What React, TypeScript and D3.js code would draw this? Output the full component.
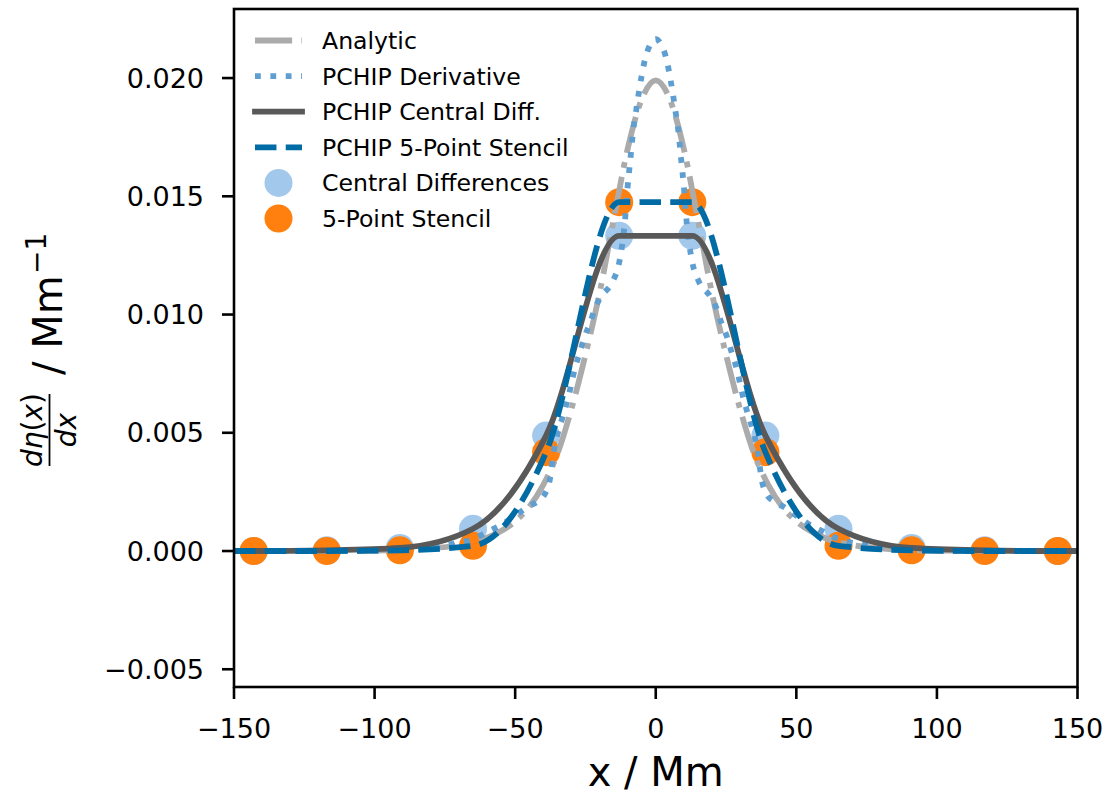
import React from "react";
import * as d3 from "d3";

// ---- data ----
const nodeX = [-143, -117, -91, -65, -39, -13, 13, 39, 65, 91, 117, 143];
const centralDiff = [0, 0.00003, 0.00013, 0.00094, 0.00488, 0.01333, 0.01333, 0.00488, 0.00094, 0.00013, 0.00003, 0];
const fivePoint = [0, 0, 0.00003, 0.00022, 0.00418, 0.01475, 0.01475, 0.00418, 0.00022, 0.00003, 0, 0];

// PCHIP curves through the difference values (evaluated over the full axis)
const pchipX = [-150, -143, -117, -91, -65, -39, -13, 13, 39, 65, 91, 117, 143, 150];
const pchipCentral = [0, 0, 0.00003, 0.00013, 0.00094, 0.00488, 0.01333, 0.01333, 0.00488, 0.00094, 0.00013, 0.00003, 0, 0];
const pchipFive = [0, 0, 0, 0.00003, 0.00022, 0.00418, 0.01475, 0.01475, 0.00418, 0.00022, 0.00003, 0, 0, 0];

const analyticX = [-150, -120, -100, -90, -80, -70, -60, -50, -45, -40, -35, -30, -25, -20, -15, -10, -5, 0,
  5, 10, 15, 20, 25, 30, 35, 40, 45, 50, 60, 70, 80, 90, 100, 120, 150];
const analyticY = [0, 0.000005, 0.00002, 0.00004, 0.00011, 0.00025, 0.00056, 0.00126, 0.00187, 0.0028, 0.0041, 0.006, 0.0083, 0.0109, 0.014, 0.017, 0.0191, 0.0199,
  0.0191, 0.017, 0.014, 0.0109, 0.0083, 0.006, 0.0041, 0.0028, 0.00187, 0.00126, 0.00056, 0.00025, 0.00011, 0.00004, 0.00002, 0.000005, 0];

const pchipDerivX = [-150, -120, -100, -90, -80, -70, -65, -60, -55, -50, -45, -42, -39.5, -37.7, -36.3, -34.8, -33, -31.3, -28.8, -27, -25.2, -23.5, -21.5, -19.2, -15.3, -13, -12, -11, -10, -9, -8, -7, -6, -5, -4, -2, 0,
  2, 4, 5, 6, 7, 8, 9, 10, 11, 12, 13, 15.3, 19.2, 21.5, 23.5, 25.2, 27, 28.8, 31.3, 33, 34.8, 36.3, 37.7, 39.5, 42, 45, 50, 55, 60, 65, 70, 80, 90, 100, 120, 150];
const pchipDerivY = [0, 0.00001, 0.00003, 0.00006, 0.00015, 0.00035, 0.0005, 0.0008, 0.0011, 0.0015, 0.0019, 0.0021, 0.0024, 0.003, 0.0042, 0.005, 0.0057, 0.0064, 0.0077, 0.0084, 0.0091, 0.0096, 0.0103, 0.0108, 0.0114, 0.0122, 0.0129, 0.0139, 0.0154, 0.0166, 0.0178, 0.0186, 0.0194, 0.0201, 0.0207, 0.0214, 0.02165,
  0.0214, 0.0207, 0.0201, 0.0194, 0.0186, 0.0178, 0.0166, 0.0154, 0.0139, 0.0129, 0.0122, 0.0114, 0.0108, 0.0103, 0.0096, 0.0091, 0.0084, 0.0077, 0.0064, 0.0057, 0.005, 0.0042, 0.003, 0.0024, 0.0021, 0.0019, 0.0015, 0.0011, 0.0008, 0.0005, 0.00035, 0.00015, 0.00006, 0.00003, 0.00001, 0];

const xTicks = [-150, -100, -50, 0, 50, 100, 150];
const yTicks = [-0.005, 0, 0.005, 0.01, 0.015, 0.02];

const legendLabels = ["Analytic", "PCHIP Derivative", "PCHIP Central Diff.", "PCHIP 5-Point Stencil", "Central Differences", "5-Point Stencil"];

// ---- styles ----
const C_ANALYTIC = "#ABABAB";
const C_DERIV = "#5F9ED1";
const C_CDIFF = "#595959";
const C_FIVE = "#006BA4";
const C_CPTS = "#A2C8EC";
const C_FPTS = "#FF800E";
const LW = 5.8;
const DASH_DOT = `${6.4 * LW},${1.6 * LW},${1 * LW},${1.6 * LW}`;
const DOTTED = `${1 * LW},${1.65 * LW}`;
const DASHED = `${3.7 * LW},${1.6 * LW}`;
const FONT = "'DejaVu Sans', sans-serif";

export default function App() {
  const W = 1112, H = 796;
  const x = d3.scaleLinear().domain([-150, 150]).range([234, 1077.5]);
  const y = d3.scaleLinear().domain([-0.00575, 0.02292]).range([687, 9]);
  const left = x(-150), right = x(150), top = y(0.02292), bottom = y(-0.00575);

  const line = (xs: number[], ys: number[]) =>
    d3.line<number>().x((_, i) => x(xs[i])).y((d) => y(d)).curve(d3.curveMonotoneX)(ys) || "";

  const fmtY = d3.format(".3f");
  const fmtX = d3.format("d");

  const legX0 = 255, legX1 = 302, legTextX = 322, legY0 = 40.5, legStep = 35.6;

  return (
    <svg width={W} height={H} style={{ position: "absolute", left: 0, top: 0, background: "#fff" }} fontFamily={FONT}>
      <rect x={0} y={0} width={W} height={H} fill="#fff" />
      <defs>
        <clipPath id="plotclip">
          <rect x={left} y={top} width={right - left} height={bottom - top} />
        </clipPath>
      </defs>
      <g clipPath="url(#plotclip)">
        {nodeX.map((v, i) => (
          <circle key={"c" + i} cx={x(v)} cy={y(centralDiff[i])} r={14} fill={C_CPTS} />
        ))}
        {nodeX.map((v, i) => (
          <circle key={"f" + i} cx={x(v)} cy={y(fivePoint[i])} r={14} fill={C_FPTS} />
        ))}
        <path d={line(analyticX, analyticY)} fill="none" stroke={C_ANALYTIC} strokeWidth={LW} strokeDasharray={DASH_DOT} />
        <path d={line(pchipDerivX, pchipDerivY)} fill="none" stroke={C_DERIV} strokeWidth={LW} strokeDasharray={DOTTED} />
        <path d={line(pchipX, pchipCentral)} fill="none" stroke={C_CDIFF} strokeWidth={LW} strokeLinecap="square" />
        <path d={line(pchipX, pchipFive)} fill="none" stroke={C_FIVE} strokeWidth={LW} strokeDasharray={DASHED} />
      </g>

      {/* spines */}
      <rect x={left} y={top} width={right - left} height={bottom - top} fill="none" stroke="#000" strokeWidth={2.6} />

      {/* x axis ticks */}
      {xTicks.map((t) => (
        <g key={"xt" + t}>
          <line x1={x(t)} x2={x(t)} y1={bottom} y2={bottom + 12} stroke="#000" strokeWidth={2.6} />
          <text x={x(t)} y={738} fontSize={27} textAnchor="middle" fill="#000">{fmtX(t)}</text>
        </g>
      ))}
      {/* y axis ticks */}
      {yTicks.map((t) => (
        <g key={"yt" + t}>
          <line x1={left} x2={left - 12} y1={y(t)} y2={y(t)} stroke="#000" strokeWidth={2.6} />
          <text x={204} y={y(t)} dy="0.36em" fontSize={27} textAnchor="end" fill="#000">{fmtY(t)}</text>
        </g>
      ))}

      {/* x label */}
      <text x={(left + right) / 2} y={786} fontSize={40} textAnchor="middle" fill="#000">x / Mm</text>

      {/* y label */}
      <g transform={`translate(62, ${(top + bottom) / 2}) rotate(-90)`} fill="#000">
        <text x={-82} y={-20} fontSize={28} textAnchor="middle">
          <tspan fontStyle="italic">d</tspan><tspan fontStyle="italic">η</tspan>(<tspan fontStyle="italic">x</tspan>)
        </text>
        <line x1={-118} x2={-46} y1={-12.5} y2={-12.5} stroke="#000" strokeWidth={1.8} />
        <text x={-82} y={14} fontSize={28} textAnchor="middle" fontStyle="italic">dx</text>
        <text x={-27} y={0} fontSize={40}>/ Mm</text>
        <text x={74} y={-16} fontSize={28}>−1</text>
      </g>

      {/* legend */}
      <g>
        <line x1={legX0} x2={legX1} y1={legY0} y2={legY0} stroke={C_ANALYTIC} strokeWidth={LW} strokeDasharray={DASH_DOT} />
        <line x1={legX0} x2={legX1} y1={legY0 + legStep} y2={legY0 + legStep} stroke={C_DERIV} strokeWidth={LW} strokeDasharray={DOTTED} />
        <line x1={legX0} x2={legX1} y1={legY0 + 2 * legStep} y2={legY0 + 2 * legStep} stroke={C_CDIFF} strokeWidth={LW} strokeLinecap="square" />
        <line x1={legX0} x2={legX1} y1={legY0 + 3 * legStep} y2={legY0 + 3 * legStep} stroke={C_FIVE} strokeWidth={LW} strokeDasharray={DASHED} />
        <circle cx={(legX0 + legX1) / 2} cy={legY0 + 4 * legStep} r={14} fill={C_CPTS} />
        <circle cx={(legX0 + legX1) / 2} cy={legY0 + 5 * legStep} r={14} fill={C_FPTS} />
        {legendLabels.map((l, i) => (
          <text key={l} x={legTextX} y={legY0 + i * legStep} dy="0.36em" fontSize={23.6} fill="#000">{l}</text>
        ))}
      </g>
    </svg>
  );
}
